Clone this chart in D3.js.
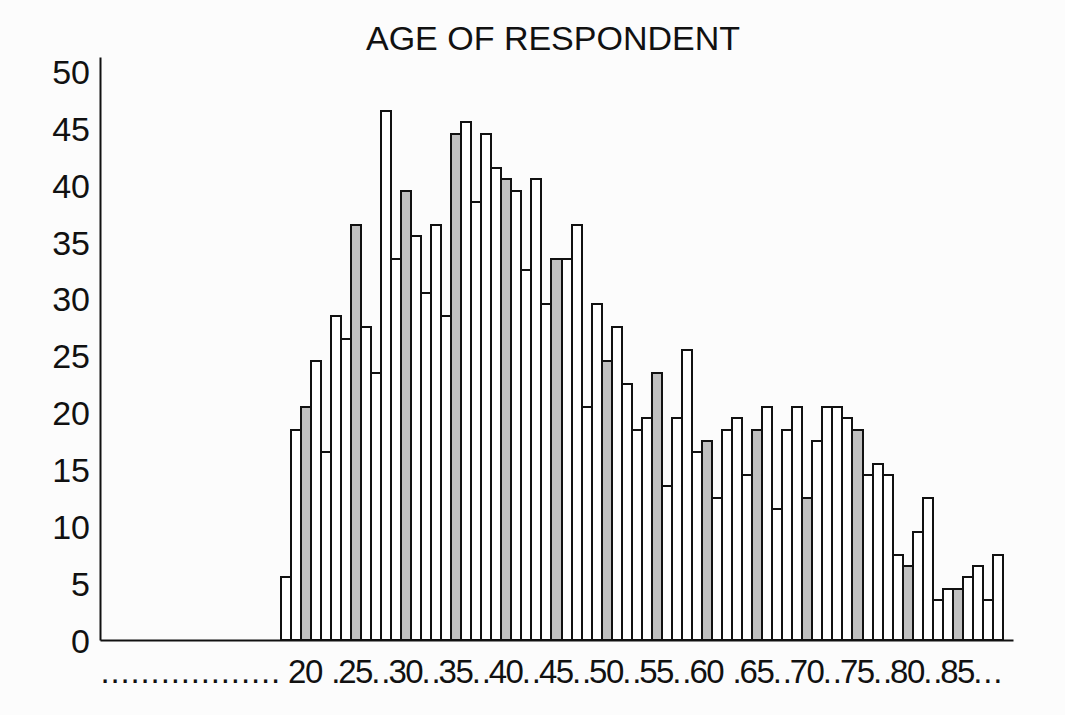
<!DOCTYPE html>
<html><head><meta charset="utf-8">
<script src="https://cdn.jsdelivr.net/npm/d3@7"></script>
<style>html,body{margin:0;padding:0;background:#fcfcfc;} svg{display:block;}</style>
</head><body>
<svg id="chart" width="1065" height="715"></svg>
<script>
// ---- data ----
const chartTitle = "AGE OF RESPONDENT";
const ages = [18,19,20,21,22,23,24,25,26,27,28,29,30,31,32,33,34,35,36,37,38,39,40,41,42,43,44,45,46,47,48,49,50,51,52,53,54,55,56,57,58,59,60,61,62,63,64,65,66,67,68,69,70,71,72,73,74,75,76,77,78,79,80,81,82,83,84,85,86,87,88,89];
const counts = [5.5,18.5,20.5,24.5,16.5,28.5,26.5,36.5,27.5,23.5,46.5,33.5,39.5,35.5,30.5,36.5,28.5,44.5,45.5,38.5,44.5,41.5,40.5,39.5,32.5,40.5,29.5,33.5,33.5,36.5,20.5,29.5,24.5,27.5,22.5,18.5,19.5,23.5,13.5,19.5,25.5,16.5,17.5,12.5,18.5,19.5,14.5,18.5,20.5,11.5,18.5,20.5,12.5,17.5,20.5,20.5,19.5,18.5,14.5,15.5,14.5,7.5,6.5,9.5,12.5,3.5,4.5,4.5,5.5,6.5,3.5,7.5];
const xSlots = d3.range(0, 91);              // axis categories 0..90
const numberLabels = [20,25,30,35,40,45,50,55,60,65,70,75,80,85];
const dotSlots = [0,1,2,3,4,5,6,7,8,9,10,11,12,13,14,15,16,17,23,27,28,32,33,37,38,42,43,47,48,52,53,57,58,63,67,68,72,73,77,78,82,83,87,88,89];
const yTicks = [0,5,10,15,20,25,30,35,40,45,50];

// ---- chart ----
const svg = d3.select("#chart");
const FONT = "'Liberation Sans', Arial, sans-serif";
const INK = "#111";

const x = d3.scaleBand().domain(xSlots).range([100, 1013]).padding(0);
const y = d3.scaleLinear().domain([0, 51.25]).range([640, 57]);

const data = ages.map((a, i) => ({age: a, count: counts[i]}));

svg.append("text")
  .attr("x", 553).attr("y", 50)
  .attr("text-anchor", "middle")
  .attr("font-family", FONT).attr("font-size", 34)
  .attr("fill", INK)
  .text(chartTitle);

svg.append("g").selectAll("rect").data(data).join("rect")
  .attr("x", d => x(d.age))
  .attr("y", d => y(d.count))
  .attr("width", x.bandwidth())
  .attr("height", d => y(0) - y(d.count))
  .attr("fill", d => d.age % 5 === 0 ? "#c0c0c0" : "#ffffff")
  .attr("stroke", INK)
  .attr("stroke-width", 2)
  .attr("shape-rendering", "crispEdges");

// y axis
const gy = svg.append("g").attr("transform", "translate(100,0)")
  .call(d3.axisLeft(y).tickValues(yTicks).tickSize(0).tickSizeOuter(0).tickPadding(10));
gy.select(".domain").attr("stroke", INK).attr("stroke-width", 2);
gy.selectAll("text").attr("font-family", FONT).attr("font-size", 34).attr("fill", INK).attr("dy", "0.36em");

// x axis
const isNum = d => numberLabels.includes(d);
const labelFor = d => isNum(d) ? String(d) : (dotSlots.includes(d) ? "." : "");
const gx = svg.append("g").attr("transform", `translate(0,${y(0)})`)
  .call(d3.axisBottom(x).tickSize(0).tickSizeOuter(0).tickFormat(labelFor));
gx.select(".domain").attr("stroke", INK).attr("stroke-width", 2);
gx.selectAll(".tick").filter(d => labelFor(d) === "").remove();
gx.selectAll("text").attr("font-family", FONT).attr("font-size", 33).attr("fill", INK)
  .attr("y", 43).attr("dy", 0)
  .attr("letter-spacing", d => isNum(d) ? -1.5 : -5)
  .attr("dx", d => isNum(d) ? -0.75 : -2.5);
</script>
</body></html>
